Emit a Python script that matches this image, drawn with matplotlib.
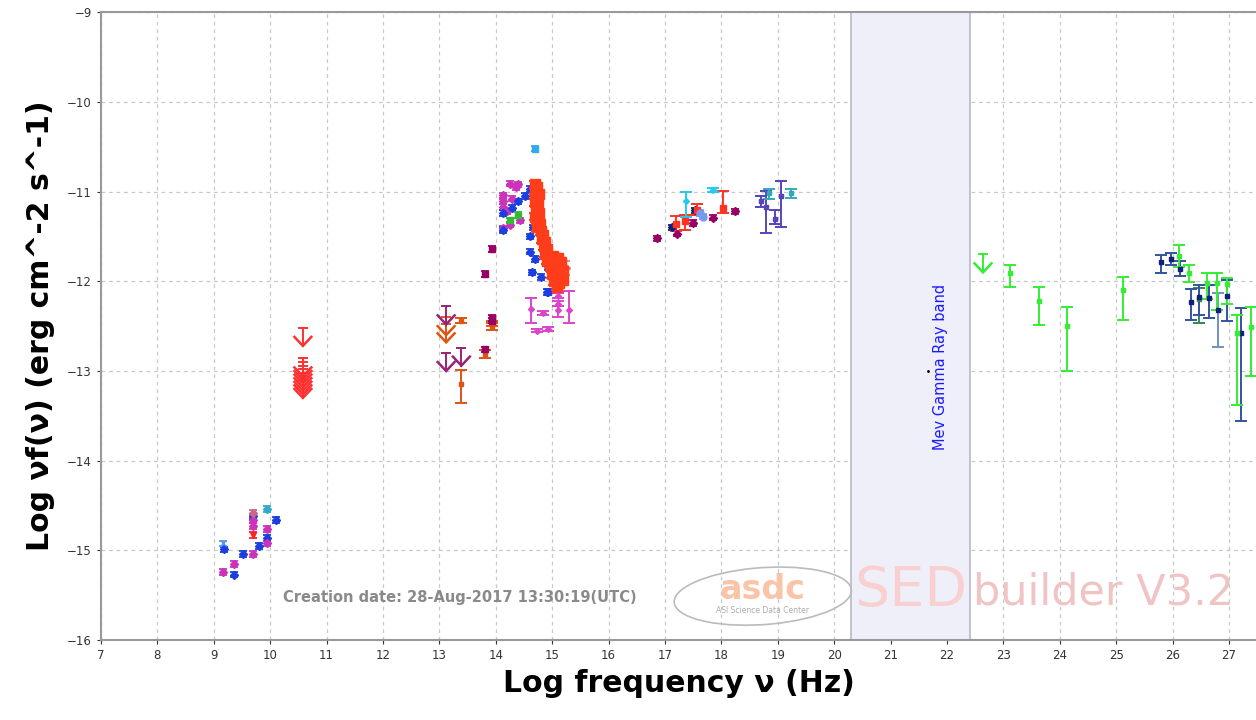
import matplotlib
matplotlib.use("Agg")
from matplotlib import pyplot as plt
from matplotlib.patches import Ellipse
import numpy as np

# ---- data (log nu [Hz], log nuF_nu [erg cm^-2 s^-1]) ----
# radio
radio_blue_x = [9.19, 9.35, 9.51, 9.80, 9.70, 9.95, 10.10]
radio_blue_y = [-14.99, -15.27, -15.04, -14.95, -14.62, -14.86, -14.66]
radio_mag_x = [9.16, 9.36, 9.70, 9.70, 9.70, 9.95, 9.95]
radio_mag_y = [-15.24, -15.15, -15.04, -14.73, -14.66, -14.76, -14.92]
radio_lblue_x = [9.16]
radio_lblue_y = [-14.92]
radio_red_x = [9.70]
radio_red_y = [-14.83]
radio_pink_x = [9.70]
radio_pink_y = [-14.58]
radio_cyan_x = [9.95]
radio_cyan_y = [-14.54]

# upper limits
ul_red_x = [10.58, 10.58, 10.58, 10.58, 10.58, 10.58, 10.58, 10.58]
ul_red_y = [-12.52, -12.86, -12.90, -12.94, -12.98, -13.02, -13.06, -13.10]
ul_purple_x = [13.12, 13.12, 13.39]
ul_purple_y = [-12.28, -12.80, -12.74]
ul_orange_x = [13.12, 13.12]
ul_orange_y = [-12.40, -12.48]
ul_green_x = [22.64]
ul_green_y = [-11.70]

# IR / optical / UV
opt_orange_x = [13.39, 13.39, 13.94, 13.81, 13.93]
opt_orange_y = [-12.44, -13.14, -12.50, -12.81, -12.47]
opt_orange_lo = [-12.47, -13.36, -12.54, -12.85, -12.50]
opt_orange_hi = [-12.41, -12.99, -12.46, -12.77, -12.44]
opt_dmag_x = [13.93, 13.81, 13.93, 13.81, 13.94]
opt_dmag_y = [-11.64, -11.92, -12.41, -12.76, -12.44]
opt_mag_x = [14.25, 14.40, 14.13, 14.28, 14.13, 14.13, 14.43, 14.25, 14.13, 14.35, 14.20]
opt_mag_y = [-10.91, -10.92, -11.04, -11.08, -11.11, -11.17, -11.32, -11.37, -11.41, -10.95, -11.22]
opt_blue_x = [14.61, 14.40, 14.28, 14.13, 14.13, 14.61, 14.61, 14.70, 14.64, 14.81, 14.93,
              14.93, 14.90, 14.52, 14.66]
opt_blue_y = [-10.97, -11.11, -11.18, -11.24, -11.43, -11.50, -11.67, -11.75, -11.90, -11.95,
              -12.12, -11.84, -12.12, -11.05, -11.40]
opt_green_x = [14.40, 14.25]
opt_green_y = [-11.26, -11.32]
opt_cyan_x = [14.70, 14.77]
opt_cyan_y = [-10.52, -11.12]
opt_red_x = [14.70, 14.74, 14.70, 14.76, 14.72, 14.70, 14.75, 14.72, 14.77, 14.70, 14.74, 14.78,
             14.73, 14.80, 14.84, 14.82, 14.87, 14.85, 14.90, 14.88, 14.93, 14.90, 14.96,
             15.02, 15.10, 15.16, 14.98, 15.06, 15.14, 15.20, 15.00, 15.08, 15.15, 15.04,
             15.12, 15.19, 15.08]
opt_red_y = [-10.92, -10.95, -11.00, -11.03, -11.07, -11.12, -11.15, -11.20, -11.24, -11.28,
             -11.32, -11.36, -11.40, -11.44, -11.48, -11.53, -11.56, -11.61, -11.64, -11.69,
             -11.72, -11.77, -11.80, -11.72, -11.74, -11.78, -11.84, -11.82, -11.86, -11.88,
             -11.92, -11.94, -11.96, -12.00, -12.02, -11.99, -12.06]
uv_mag_x = [14.62, 14.84, 14.74, 14.92, 15.11, 15.11, 15.11, 15.30]
uv_mag_y = [-12.31, -12.35, -12.55, -12.53, -12.16, -12.25, -12.32, -12.32]
uv_mag_lo = [-12.47, -12.37, -12.57, -12.55, -12.19, -12.28, -12.40, -12.47]
uv_mag_hi = [-12.19, -12.33, -12.53, -12.51, -12.13, -12.22, -12.28, -12.11]
uv_rose_x = [15.25]
uv_rose_y = [-11.85]

# X-ray
xr_dmag_x = [16.86, 17.21, 17.50, 17.86, 18.24]
xr_dmag_y = [-11.52, -11.47, -11.35, -11.29, -11.22]
xr_navy_x = [17.12, 17.53]
xr_navy_y = [-11.40, -11.21]
xr_red_x = [17.20, 17.35, 17.56, 18.03]
xr_red_y = [-11.36, -11.33, -11.20, -11.18]
xr_red_lo = [-11.44, -11.43, -11.26, -11.24]
xr_red_hi = [-11.27, -11.26, -11.14, -10.99]
xr_cyan_x = [17.37, 17.86]
xr_cyan_y = [-11.11, -10.98]
xr_cyan_lo = [-11.28, -11.00]
xr_cyan_hi = [-11.00, -10.96]
xr_corn_x = [17.62, 17.68]
xr_corn_y = [-11.24, -11.28]
xr_slate_x = [18.71, 18.80, 18.95, 19.06]
xr_slate_y = [-11.11, -11.17, -11.30, -11.05]
xr_slate_lo = [-11.17, -11.46, -11.36, -11.39]
xr_slate_hi = [-11.05, -10.99, -11.21, -10.88]
xr_teal_x = [18.85, 19.24]
xr_teal_y = [-11.02, -11.02]
xr_teal_lo = [-11.08, -11.07]
xr_teal_hi = [-10.97, -10.97]

# gamma-ray
gam_green_x = [23.12, 23.64, 24.13, 25.12, 26.12, 26.29, 26.62, 26.79, 26.97, 27.15, 27.40]
gam_green_y = [-11.91, -12.22, -12.50, -12.10, -11.72, -11.91, -12.02, -12.02, -12.03, -12.58, -12.51]
gam_green_lo = [-12.06, -12.49, -13.00, -12.43, -11.84, -12.01, -12.20, -12.32, -12.25, -13.38, -13.06]
gam_green_hi = [-11.82, -12.06, -12.29, -11.95, -11.60, -11.82, -11.91, -11.91, -11.96, -12.38, -12.29]
gam_dgreen_x = [26.47]
gam_dgreen_y = [-12.20]
gam_dgreen_lo = [-12.46]
gam_dgreen_hi = [-12.08]
gam_navy_x = [25.79, 25.97, 26.14, 26.32, 26.47, 26.65, 26.97, 27.22]
gam_navy_y = [-11.79, -11.75, -11.86, -12.23, -12.17, -12.19, -12.16, -12.58]
gam_navy_lo = [-11.91, -11.82, -11.94, -12.43, -12.38, -12.41, -12.44, -13.56]
gam_navy_hi = [-11.71, -11.68, -11.77, -12.09, -12.04, -12.04, -11.98, -12.30]
gam_steel_x = [26.81]
gam_steel_y = [-12.32]
gam_steel_lo = [-12.73]
gam_steel_hi = [-12.13]

band_lo, band_hi = 20.3, 22.4


def errs(y, lo, hi):
    y = np.asarray(y)
    return [y - np.asarray(lo), np.asarray(hi) - y]


def pts(ax, x, y, color, marker="D", ms=3.8, err=0.03):
    ax.errorbar(x, y, yerr=err, fmt=marker, color=color, ms=ms, lw=1.3,
                capsize=3, capthick=1.3, zorder=4)


def ebar(ax, x, y, lo, hi, color, marker="s", ms=3.5, ecolor=None):
    ax.errorbar(x, y, yerr=errs(y, lo, hi), fmt=marker, color=color, ms=ms, lw=1.4,
                ecolor=ecolor or color, capsize=4, capthick=1.4, zorder=4)


def uplim(ax, x, y, color, length=0.2, hw=0.15, hh=0.1):
    # cap at the limit, stem going down, open chevron head
    for xi, yi in zip(x, y):
        tip = yi - length
        ax.plot([xi - 0.07, xi + 0.07], [yi, yi], color=color, lw=1.4, zorder=4)
        ax.plot([xi, xi], [yi, tip], color=color, lw=1.4, zorder=4)
        ax.plot([xi - hw, xi, xi + hw], [tip + hh, tip, tip + hh], color=color, lw=1.8,
                solid_joinstyle="miter", zorder=4)


fig = plt.figure(figsize=(12.56, 7.2), dpi=100)
ax = fig.add_axes([0.0804, 0.111, 0.9196, 0.872])
ax.set_xlim(7, 27.48)
ax.set_ylim(-16, -9)

ax.axvspan(band_lo, band_hi, facecolor="#efeffa", edgecolor="#b8b8c8", lw=1.2, zorder=1)
ax.text(21.88, -12.95, "Mev Gamma Ray band", rotation=90, color="#1a1aff",
        fontsize=10.5, ha="center", va="center", zorder=3)
ax.plot([21.66], [-13.0], ".", color="black", ms=2, zorder=3)

ax.set_xticks(range(7, 28))
ax.set_yticks(range(-16, -8))
ax.grid(True, color="#c8c8c8", ls=(0, (3, 3)), lw=0.9)
ax.set_axisbelow(True)
ax.tick_params(labelsize=8.5, colors="#333333", length=3, width=0.8)
for s in ax.spines.values():
    s.set_color("#999999")
    s.set_linewidth(1.5)
ax.spines["right"].set_visible(False)

ax.set_xlabel("Log frequency ν (Hz)", fontsize=21.5, fontweight="bold", labelpad=5)
ax.set_ylabel("Log νf(ν) (erg cm^-2 s^-1)", fontsize=21.5, fontweight="bold", labelpad=9)

# watermark
ax.text(0.158, 0.068, "Creation date: 28-Aug-2017 13:30:19(UTC)", transform=ax.transAxes,
        fontsize=10.5, color="#8a8a8a", fontweight="bold", va="center", zorder=2)
ax.add_patch(Ellipse((0.573, 0.07), 0.155, 0.09, angle=10, transform=ax.transAxes,
                     fill=False, edgecolor="#bbbbbb", lw=1.2, zorder=2))
ax.text(0.573, 0.08, "asdc", transform=ax.transAxes, fontsize=24, fontweight="bold",
        color="#f9c4a8", ha="center", va="center", zorder=2)
ax.text(0.573, 0.047, "ASI Science Data Center", transform=ax.transAxes, fontsize=5.5,
        color="#aaaaaa", ha="center", va="center", zorder=2)
ax.text(0.652, 0.078, "SED", transform=ax.transAxes, fontsize=40, color="#f8d0d0",
        ha="left", va="center", zorder=2)
ax.text(0.755, 0.075, "builder V3.2", transform=ax.transAxes, fontsize=31, color="#f0c4c4",
        ha="left", va="center", zorder=2)

# radio
pts(ax, radio_blue_x, radio_blue_y, "#1a3ee0")
pts(ax, radio_mag_x, radio_mag_y, "#cc33bb")
pts(ax, radio_lblue_x, radio_lblue_y, "#5599ee", marker="x")
pts(ax, radio_red_x, radio_red_y, "#ff2222", marker="v", ms=5)
pts(ax, radio_pink_x, radio_pink_y, "#cc6688")
pts(ax, radio_cyan_x, radio_cyan_y, "#33aacc")

# upper limits
uplim(ax, ul_red_x, ul_red_y, "#ff3030")
uplim(ax, ul_orange_x, ul_orange_y, "#dd5511")
uplim(ax, ul_purple_x, ul_purple_y, "#992277")
uplim(ax, ul_green_x, ul_green_y, "#33ee33")

# IR / optical / UV
ebar(ax, opt_orange_x, opt_orange_y, opt_orange_lo, opt_orange_hi, "#dd5511")
pts(ax, opt_dmag_x, opt_dmag_y, "#990066", marker="s")
pts(ax, opt_mag_x, opt_mag_y, "#cc33bb")
pts(ax, opt_green_x, opt_green_y, "#33bb33", marker="s")
pts(ax, opt_blue_x, opt_blue_y, "#1a3ee0")
pts(ax, opt_cyan_x, opt_cyan_y, "#33aaee", marker="s")
ax.errorbar(opt_red_x, opt_red_y, yerr=0.04, fmt="s", color="#ff3d1a", ms=7, lw=1.5,
            capsize=4, capthick=1.5, zorder=5)
ebar(ax, uv_mag_x, uv_mag_y, uv_mag_lo, uv_mag_hi, "#dd44cc", marker="D", ms=3)
pts(ax, uv_rose_x, uv_rose_y, "#cc8888", err=0.08)

# X-ray
pts(ax, xr_dmag_x, xr_dmag_y, "#990066")
pts(ax, xr_navy_x, xr_navy_y, "#10207a")
ebar(ax, xr_red_x, xr_red_y, xr_red_lo, xr_red_hi, "#ff3322", ms=5)
ebar(ax, xr_cyan_x, xr_cyan_y, xr_cyan_lo, xr_cyan_hi, "#22ccee", marker="D", ms=3)
pts(ax, xr_corn_x, xr_corn_y, "#7799ee", marker="o", ms=5)
ebar(ax, xr_slate_x, xr_slate_y, xr_slate_lo, xr_slate_hi, "#5544bb", ms=3)
ebar(ax, xr_teal_x, xr_teal_y, xr_teal_lo, xr_teal_hi, "#33aabb", ms=3)

# gamma-ray
ebar(ax, gam_steel_x, gam_steel_y, gam_steel_lo, gam_steel_hi, "#10207a", ms=3, ecolor="#7090c0")
ebar(ax, gam_dgreen_x, gam_dgreen_y, gam_dgreen_lo, gam_dgreen_hi, "#338855", ms=3)
ebar(ax, gam_navy_x, gam_navy_y, gam_navy_lo, gam_navy_hi, "#10207a", ms=3.5, ecolor="#3355a0")
ebar(ax, gam_green_x, gam_green_y, gam_green_lo, gam_green_hi, "#33ee33", ms=3)

fig.savefig("out.png", dpi=100)
